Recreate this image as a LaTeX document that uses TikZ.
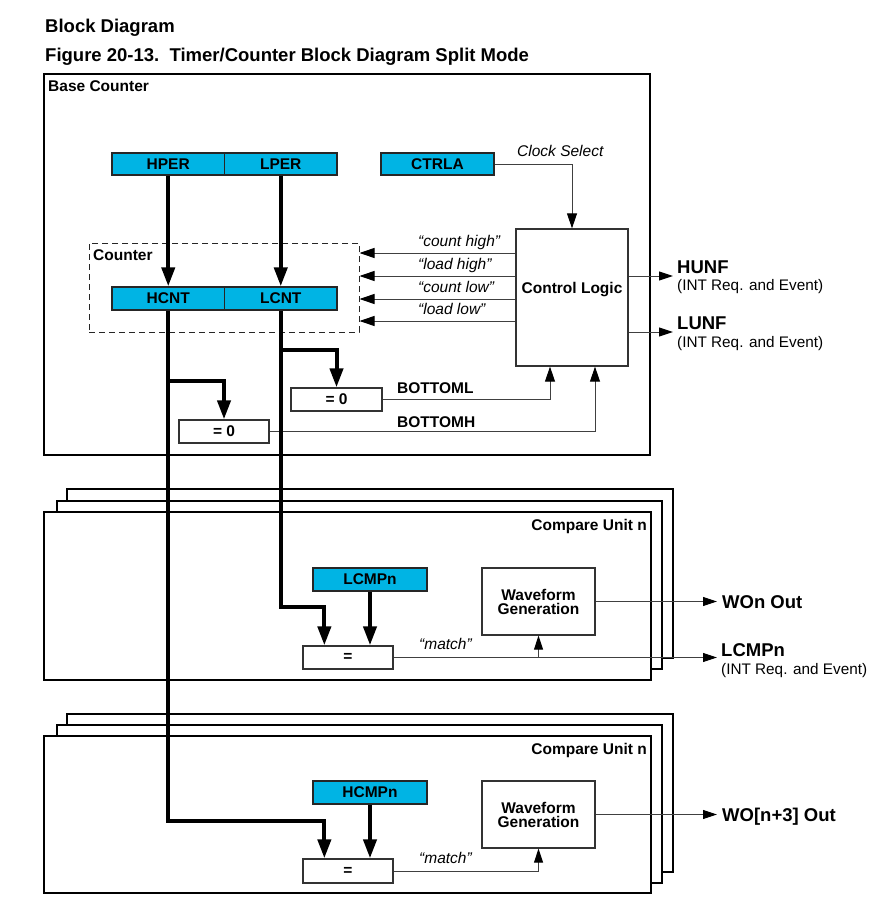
\documentclass[tikz,border=0pt]{standalone}
\usepackage{fontspec}
\setmainfont{Liberation Sans}
\usetikzlibrary{arrows.meta,calc}
\definecolor{regcyan}{RGB}{0,180,228}
\tikzset{
  lbl/.style={font=\fontsize{15.3}{18}\selectfont, inner sep=0pt},
  blbl/.style={font=\bfseries\fontsize{15.5}{18}\selectfont, inner sep=0pt},
  ilbl/.style={font=\itshape\fontsize{15.5}{18}\selectfont, inner sep=0pt},
  olbl/.style={font=\bfseries\fontsize{18.5}{20}\selectfont, inner sep=0pt},
  ttl/.style={font=\bfseries\fontsize{18.5}{20}\selectfont, inner sep=0pt},
  regbox/.style={draw=black!85, line width=1.3pt, fill=regcyan, blbl, minimum height=22pt},
  wbox/.style={draw=black!80, line width=1.3pt, fill=white, blbl},
  frame/.style={draw=black, line width=1.2pt, fill=white},
  thinln/.style={draw=black!75, line width=1pt},
  thinarr/.style={thinln, -{Triangle[length=15pt,width=10pt,color=black]}},
  outarr/.style={thinln, -{Triangle[length=14pt,width=9pt,color=black]}},
  busln/.style={line width=4pt, draw=black},
  busarr/.style={busln, -{Triangle[length=19pt,width=13pt]}}
}
\begin{document}
\begin{tikzpicture}[x=1pt,y=-1pt]
\useasboundingbox (0,0) rectangle (893,907);

% titles
\node[ttl, anchor=base west] (t1) at (45,33) {Block Diagram};
\node[ttl, anchor=base west] (t2) at (45,61.5) {Figure 20-13.\ \ Timer/Counter Block Diagram Split Mode};

% frames
\draw[frame] (44,74) rectangle (650,455);
\node[blbl, anchor=base west] (lblbase) at (48,91.5) {Base Counter};

\draw[frame] (67,489) rectangle (673,658);
\draw[frame] (57,501) rectangle (662,669);
\draw[frame] (44,512) rectangle (651,680);
\node[blbl, anchor=base east] (lblcu1) at (647,530) {Compare Unit n};

\draw[frame] (67,714) rectangle (673,872);
\draw[frame] (57,725) rectangle (662,883);
\draw[frame] (44,736) rectangle (651,893);
\node[blbl, anchor=base east] (lblcu2) at (647,754) {Compare Unit n};

% counter dashed group
\node[draw=black!85, line width=1pt, dash pattern=on 6pt off 4pt, minimum width=270pt, minimum height=89pt, inner sep=0pt] (cnt) at (224,287.5) {};
\node[blbl, anchor=base west] (lblcnt) at (93,260) {Counter};

% registers
\node[regbox, minimum width=112.5pt] (hper) at (168.25,164) {HPER};
\node[regbox, minimum width=112.5pt] (lper) at (280.75,164) {LPER};
\node[regbox, minimum width=112.5pt, minimum height=23pt] (hcnt) at (168.25,298.5) {HCNT};
\node[regbox, minimum width=112.5pt, minimum height=23pt] (lcnt) at (280.75,298.5) {LCNT};
\node[regbox, minimum width=113pt] (ctrla) at (437.5,164) {CTRLA};

\node[wbox, minimum width=112pt, minimum height=137pt] (ctrl) at (572,297.5) {};
\node[blbl] (ctrllbl) at (572,290) {Control Logic};

\node[wbox, minimum width=90pt, minimum height=23pt] (eqh) at (224,431.5) {= 0};
\node[wbox, minimum width=91pt, minimum height=23pt] (eql) at (336.5,399.5) {= 0};

% compare unit 1
\node[regbox, minimum width=114pt, minimum height=23pt] (lcmp) at (370,579.5) {LCMPn};
\node[wbox, minimum width=90pt, minimum height=23pt] (eq1) at (348,657.5) {=};
\node[wbox, minimum width=113pt, minimum height=67pt, align=center, font=\bfseries\fontsize{15.5}{14}\selectfont] (wf1) at (538.5,601.5) {Waveform\\Generation};

% compare unit 2
\node[regbox, minimum width=114pt, minimum height=23pt] (hcmp) at (370,792.5) {HCMPn};
\node[wbox, minimum width=90pt, minimum height=24pt] (eq2) at (348,871) {=};
\node[wbox, minimum width=113pt, minimum height=67pt, align=center, font=\bfseries\fontsize{15.5}{14}\selectfont] (wf2) at (538.5,814.5) {Waveform\\Generation};

% clock select
\draw[thinarr] (ctrla.east) -| (ctrl.north);
\node[ilbl, anchor=base west] (lblclk) at (517,156) {Clock Select};

% control signals to counter
\foreach \y/\t in {253/count high, 276/load high, 299/count low, 321/load low} {
  \draw[thinarr] (ctrl.west |- 0,\y) -- (cnt.east |- 0,\y);
  \node[ilbl, anchor=base west] at (418,\y-7) {“\t”};
}

% underflow outputs
\coordinate (hunfend) at (673,276);
\coordinate (lunfend) at (673,332);
\draw[outarr] (ctrl.east |- hunfend) -- (hunfend);
\draw[outarr] (ctrl.east |- lunfend) -- (lunfend);
\node[olbl, anchor=base west] (hunf) at (677,273) {HUNF};
\node[lbl, anchor=base west] (hunfs) at (677,290) {(INT Req. and Event)};
\node[olbl, anchor=base west] (lunf) at (677,329) {LUNF};
\node[lbl, anchor=base west] (lunfs) at (677,347) {(INT Req. and Event)};

% bottom signals
\coordinate (botl) at ($(ctrl.south)+(-22,0)$);
\coordinate (both) at ($(ctrl.south)+(23,0)$);
\draw[thinarr] (eql.east) -| (botl);
\draw[thinarr] (eqh.east) -| (both);
\node[blbl, anchor=base west] (lblbl) at (397,393) {BOTTOML};
\node[blbl, anchor=base west] (lblbh) at (397,427) {BOTTOMH};

% compare unit 1 signals
\coordinate (eq1in) at ($(eq1.north west)+(22,0)$);
\coordinate (lcmpend) at (717,657.5);
\coordinate (woend) at (717,601.5);
\draw[thinln] (eq1.east) -- (wf1.south |- eq1.east);
\draw[outarr] (wf1.south |- eq1.east) -- (lcmpend);
\draw[outarr] (wf1.south |- eq1.east) -- (wf1.south);
\draw[outarr] (wf1.east) -- (woend);
\node[ilbl, anchor=base west] (m1) at (419,649) {“match”};
\node[olbl, anchor=base west] (woout) at (722,608) {WOn Out};
\node[olbl, anchor=base west] (lcmpo) at (721,656) {LCMPn};
\node[lbl, anchor=base west] (lcmpos) at (721,674) {(INT Req. and Event)};

% compare unit 2 signals
\coordinate (eq2in) at ($(eq2.north west)+(22,0)$);
\coordinate (wo3end) at (717,814.5);
\draw[outarr] (eq2.east) -| (wf2.south);
\draw[outarr] (wf2.east) -- (wo3end);
\node[ilbl, anchor=base west] (m2) at (419,863) {“match”};
\node[olbl, anchor=base west] (wo3) at (722,821) {WO[n+3] Out};

% buses
\draw[busarr] (hper.south) -- (hcnt.north);
\draw[busarr] (lper.south) -- (lcnt.north);
\draw[busarr] (hcnt.south) |- ($(eq2in)+(0,-37)$) -- (eq2in);
\draw[busarr] ($(hcnt.south)+(0,70)$) -| (eqh.north);
\draw[busarr] (lcnt.south) |- ($(eq1in)+(0,-38)$) -- (eq1in);
\draw[busarr] ($(lcnt.south)+(0,39)$) -| (eql.north);
\draw[busarr] (lcmp.south) -- (lcmp.south |- eq1.north);
\draw[busarr] (hcmp.south) -- (hcmp.south |- eq2.north);
\end{tikzpicture}
\end{document}
